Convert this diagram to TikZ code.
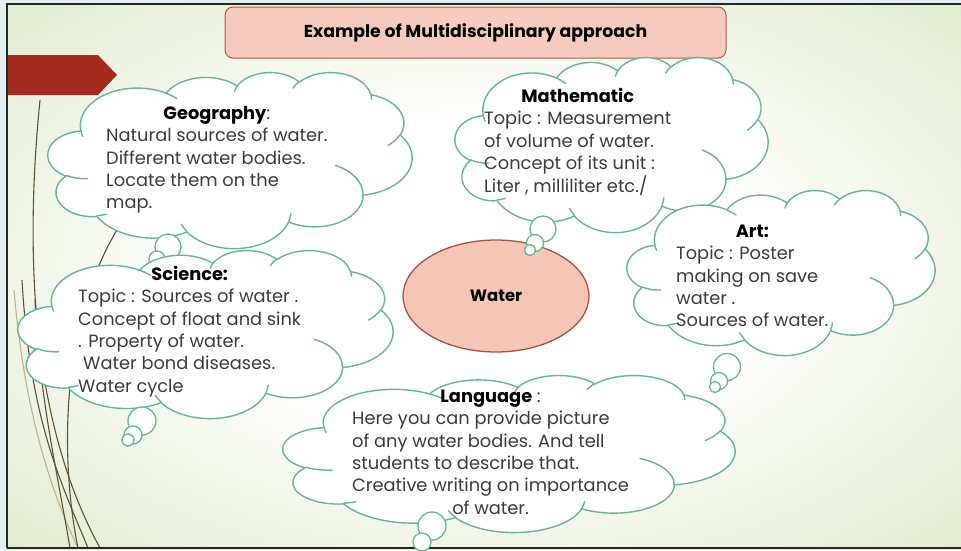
\documentclass[tikz,border=0pt]{standalone}
\usepackage{fontspec}
\setmainfont{Poppins}
\usetikzlibrary{shapes.geometric}
\definecolor{outerbg}{HTML}{E3EFEC}
\definecolor{edgegreen}{HTML}{D8E6C0}
\definecolor{cloudline}{HTML}{62B894}
\definecolor{titlefill}{HTML}{F7CABF}
\definecolor{titledraw}{HTML}{B4574A}
\definecolor{ellfill}{HTML}{F5C5B8}
\definecolor{elldraw}{HTML}{A85244}
\definecolor{arrowred}{HTML}{A52A1F}
\definecolor{grassbrown}{HTML}{5E5236}
\definecolor{grasslight}{HTML}{B9B48E}
\definecolor{bodygray}{HTML}{3C3C3C}
\pgfdeclareradialshading{bgshade}{\pgfpoint{0bp}{0bp}}{color(0bp)=(white); color(14bp)=(white); color(42bp)=(edgegreen); color(50bp)=(edgegreen)}
\tikzset{
  declare function={
    vang(\a,\b,\t)=atan2(\a*sin(\t),\b*cos(\t));
    dang(\a,\b,\s,\w)=vang(\a,\b,\s+\w)-vang(\a,\b,\s)+360*round((\w-(vang(\a,\b,\s+\w)-vang(\a,\b,\s)))/360);
  },
  ca/.style n args={4}{insert path={arc[x radius=#1, y radius=#2, start angle={vang(#1,#2,#3)}, delta angle={dang(#1,#2,#3,#4)}]}},
  cloudpath/.style={draw=cloudline, fill=white, line width=1.4pt, line join=round},
  cloudinner/.style={draw=cloudline, line width=1.4pt, line cap=round}
}
\newcommand{\drawcloud}[4]{%
\begin{scope}[shift={(#1,#2)}, x={#3pt/432}, y={-#4pt/432}]
\path[cloudpath] (39.00,143.70)
  [ca={67.53}{91.90}{-190.4875}{123.7805}]
  [ca={53.33}{72.67}{-144.1024}{89.9452}]
  [ca={43.65}{59.45}{-145.8079}{99.7230}]
  [ca={48.57}{65.95}{-130.9861}{117.2417}]
  [ca={53.33}{72.73}{-78.7089}{109.0269}]
  [ca={67.75}{92.20}{-46.2673}{130.2690}]
  [ca={57.85}{78.67}{0.6250}{114.0333}]
  [ca={67.52}{92.15}{22.4516}{115.1726}]
  [ca={77.20}{105.43}{66.2426}{75.7110}]
  [ca={43.60}{59.18}{-274.9421}{146.7356}]
  [ca={43.45}{59.45}{-246.8285}{152.5189}] -- cycle;
\path[cloudinner]
  (46.93,261.77) [ca={43.45}{59.45}{86.7420}{26.4295}]
  (69.28,348.99) [ca={43.60}{59.18}{73.6105}{11.4475}]
  (164.78,390.90) [ca={67.52}{92.15}{137.6242}{14.0811}]
  (288.27,347.51) [ca={67.52}{92.15}{6.4533}{15.9984}]
  (341.29,229.54) [ca={57.85}{78.67}{-70.2924}{70.9174}]
  (417.98,153.54) [ca={53.33}{72.73}{30.3180}{27.7515}]
  (383.24,54.26) [ca={48.57}{65.95}{-13.7443}{14.8589}]
  (290.78,39.52) [ca={48.57}{65.95}{-149.1815}{18.1954}]
  (221.41,47.20) [ca={43.65}{59.45}{-163.4943}{17.6864}]
  (140.00,51.92) [ca={67.53}{91.90}{-66.7070}{12.3194}]
  (41.27,157.89) [ca={67.53}{91.90}{157.6544}{11.8582}];
\end{scope}}
\begin{document}
\begin{tikzpicture}[x=1pt,y=-1pt,
  bubble/.style={circle, draw=cloudline, fill=white, line width=1.3pt, inner sep=0pt},
  bodytext/.style={anchor=base west, inner sep=0pt, text=bodygray, font=\fontsize{17.8}{22.3}\selectfont},
  grass/.style={draw=grassbrown, line width=1.1pt},
  grassfaint/.style={draw=grasslight, line width=1.1pt}
]
\useasboundingbox (0,0) rectangle (961,550);
\fill[outerbg] (0,0) rectangle (961,550);
\begin{scope}
\clip (7,4) rectangle (961,548);
\shade[shading=bgshade] (7,4) rectangle (961,548);
% grass lines
\draw[grassfaint] (14,290) .. controls (25,420) and (55,500) .. (78,548);
\draw[grass] (40,100) .. controls (25,250) and (30,420) .. (100,548);
\draw[grass] (22,280) .. controls (30,420) and (60,480) .. (88,548);
\draw[grass] (120,225) .. controls (60,320) and (60,460) .. (78,548);
\draw[grass] (35,300) .. controls (40,400) and (55,460) .. (70,548);
\end{scope}
\draw[line width=2pt, draw=black!85] (7,548) -- (7,4) -- (961,4);
\draw[line width=2pt, draw=black!85] (7,548) -- (961,548);
% arrow
\fill[arrowred] (8,55) -- (98,55) -- (117,75) -- (98,95) -- (8,95) -- cycle;
% title
\node[draw=titledraw, fill=titlefill, line width=1pt, rounded corners=8pt, minimum width=501, minimum height=51, inner sep=0pt,
  font=\fontsize{17.3}{20}\selectfont\bfseries] (title) at (475.5,32.5) {Example of Multidisciplinary approach};
% Geography
\drawcloud{48}{72}{364}{176}
\node[bubble, minimum size=26] (geob1) at (168,247) {};
\node[bubble, minimum size=16] (geob2) at (157,259) {};
\node[bodytext] (geot) at (106,119.5) {\begin{tabular}[t]{@{}l@{}}\multicolumn{1}{@{}c@{}}{\textcolor{black}{\bfseries Geography}:}\\
Natural sources of water.\\ Different water bodies.\\ Locate them on the\\ map.\end{tabular}};
% Science
\drawcloud{18}{250}{375}{168}
\node[bubble, minimum size=28] (scib1) at (142,421) {};
\node[bubble, minimum size=18] (scib2) at (133,435) {};
\node[bubble, minimum size=12] (scib3) at (128,440) {};
\node[bodytext] (scit) at (78,280.5) {\begin{tabular}[t]{@{}l@{}}\multicolumn{1}{@{}c@{}}{\textcolor{black}{\bfseries Science:}}\\
Topic : Sources of water .\\ Concept of float and sink\\ . Property of water.\\ \hspace{5pt}Water bond diseases.\\ Water cycle\end{tabular}};
% Water
\node[ellipse, draw=elldraw, fill=ellfill, line width=1.3pt, minimum width=186, minimum height=112, font=\fontsize{16.5}{18}\selectfont\bfseries] (water) at (496,296) {Water};
% Mathematic
\drawcloud{455}{57}{313}{175}
\node[bubble, minimum size=26] (mathb1) at (543,229) {};
\node[bubble, minimum size=17] (mathb2) at (535,243) {};
\node[bubble, minimum size=11] (mathb3) at (530,250) {};
\node[bodytext] (matht) at (484,102.5) {\begin{tabular}[t]{@{}l@{}}\multicolumn{1}{@{}c@{}}{\textcolor{black}{\bfseries Mathematic}}\\
Topic : Measurement\\ of volume of water.\\ Concept of its unit :\\ Liter , milliliter etc./\end{tabular}};
% Art
\drawcloud{627}{190}{308}{165}
\node[bubble, minimum size=27] (artb1) at (727,367) {};
\node[bubble, minimum size=17] (artb2) at (719,381) {};
\node[bubble, minimum size=11] (artb3) at (715,387) {};
\node[bodytext] (artt) at (676,237.5) {\begin{tabular}[t]{@{}l@{}}\multicolumn{1}{@{}c@{}}{\textcolor{black}{\bfseries Art:}}\\
Topic : Poster\\ making on save\\ water .\\ Sources of water.\end{tabular}};
% Language
\drawcloud{283}{375}{452}{157}
\node[bubble, minimum size=28] (langb1) at (432,526) {};
\node[bubble, minimum size=18] (langb2) at (422,542) {};
\node[bodytext] (langt) at (352,402.5) {\begin{tabular}[t]{@{}l@{}}\multicolumn{1}{@{}c@{}}{\textcolor{black}{\bfseries Language} :}\\
Here you can provide picture\\ of any water bodies. And tell\\ students to describe that.\\ Creative writing on importance\\ \multicolumn{1}{@{}c@{}}{of water.}\end{tabular}};
\end{tikzpicture}
\end{document}
